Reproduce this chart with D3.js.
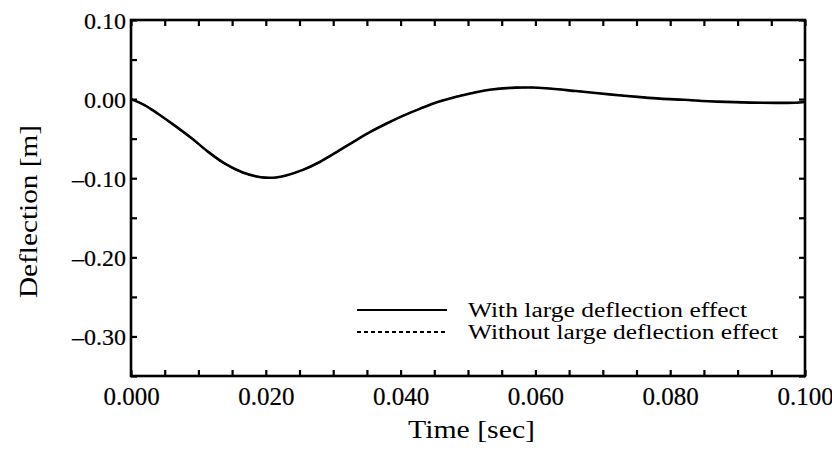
<!DOCTYPE html>
<html>
<head>
<meta charset="utf-8">
<script src="https://cdn.jsdelivr.net/npm/d3@7"></script>
<style>
  html, body { margin: 0; padding: 0; background: #fff; }
  svg { display: block; }
  text { font-family: "Liberation Serif", "DejaVu Serif", serif; fill: #000; }
</style>
</head>
<body>
<svg id="chart" width="832" height="451"></svg>
<script>
// ---- data ----
const time = [0, 0.002, 0.004, 0.0065, 0.009, 0.0115, 0.014, 0.0165, 0.0185, 0.020, 0.0215, 0.023,
  0.0255, 0.028, 0.0305, 0.033, 0.0355, 0.038, 0.0405, 0.043, 0.0455, 0.048, 0.0505, 0.0535,
  0.057, 0.0595, 0.0615, 0.066, 0.071, 0.076, 0.0785, 0.082, 0.087, 0.092, 0.096, 0.0985, 0.100];
const withLarge = [0, -0.0075, -0.0185, -0.0335, -0.0495, -0.067, -0.082, -0.0925, -0.0975, -0.0993, -0.099, -0.0965,
  -0.0895, -0.0795, -0.067, -0.054, -0.0415, -0.0305, -0.0205, -0.0117, -0.0037, 0.0025, 0.0075, 0.0122,
  0.0145, 0.0146, 0.0137, 0.0102, 0.006, 0.0022, 0.0006, -0.0009, -0.0032, -0.0045, -0.0047, -0.0046, -0.0036];
const withoutLarge = [0, -0.0075, -0.0187, -0.0338, -0.0498, -0.0673, -0.0823, -0.0927, -0.0977, -0.0994, -0.0991, -0.0966,
  -0.0896, -0.0796, -0.0671, -0.054, -0.0414, -0.0304, -0.0204, -0.0116, -0.0036, 0.0026, 0.0076, 0.0123,
  0.0146, 0.0147, 0.0138, 0.0103, 0.0061, 0.0023, 0.0006, -0.0009, -0.0032, -0.0045, -0.0047, -0.0046, -0.0037];
const xLabelTicks = [0, 0.02, 0.04, 0.06, 0.08, 0.10];
const yLabelTicks = [0.10, 0.00, -0.10, -0.20, -0.30];
const seriesNames = ["With large deflection effect", "Without large deflection effect"];
const xTitle = "Time [sec]";
const yTitle = "Deflection [m]";

// ---- layout ----
const svg = d3.select("#chart");
const L = 131, R = 805, T = 20, B = 376;
const x = d3.scaleLinear().domain([0, 0.10]).range([L, R]);
const y = d3.scaleLinear().domain([-0.35, 0.10]).range([B, T]);

const fmtX = d => d3.format(".3f")(d);
const fmtY = d => (d < 0 ? "\u2013" : "") + d3.format(".2f")(Math.abs(d));
const isLabX = d => xLabelTicks.some(v => Math.abs(v - d) < 1e-9);
const isLabY = d => yLabelTicks.some(v => Math.abs(v - d) < 1e-9);

const xMinor = d3.range(0, 0.10001, 0.005);
const yMinor = d3.range(-0.35, 0.10001, 0.05).map(v => Math.round(v * 100) / 100);

// bottom axis
const gB = svg.append("g").attr("transform", `translate(0,${B})`)
  .call(d3.axisBottom(x).tickValues(xMinor).tickSize(-6).tickPadding(11)
    .tickFormat(d => isLabX(d) ? fmtX(d) : ""));
// top axis
const gT = svg.append("g").attr("transform", `translate(0,${T})`)
  .call(d3.axisTop(x).tickValues(xMinor).tickSize(-6).tickFormat(""));
// left axis
const gL = svg.append("g").attr("transform", `translate(${L},0)`)
  .call(d3.axisLeft(y).tickValues(yMinor).tickSize(-6).tickPadding(5)
    .tickFormat(d => isLabY(d) ? fmtY(d) : ""));
// right axis
const gR = svg.append("g").attr("transform", `translate(${R},0)`)
  .call(d3.axisRight(y).tickValues(yMinor).tickSize(-6).tickFormat(""));

[gB, gT, gL, gR].forEach(g => {
  g.select(".domain").remove();
  g.selectAll(".tick line").attr("stroke", "#000").attr("stroke-width", 2.2);
  g.selectAll(".tick text").style("font-family", "'Liberation Serif', serif").attr("fill", "#000")
    .attr("stroke", "#000").attr("stroke-width", 0.2);
});
gB.selectAll(".tick text").style("font-size", "25px");
gL.selectAll(".tick text").style("font-size", "24px").attr("dy", "0.35em");

// frame
svg.append("rect").attr("x", L).attr("y", T).attr("width", R - L).attr("height", B - T)
  .attr("fill", "none").attr("stroke", "#000").attr("stroke-width", 2.6);

// lines
const data1 = time.map((t, i) => [t, withLarge[i]]);
const data2 = time.map((t, i) => [t, withoutLarge[i]]);
const line = d3.line().x(d => x(d[0])).y(d => y(d[1])).curve(d3.curveCatmullRom);
svg.append("path").attr("d", line(data1)).attr("fill", "none").attr("stroke", "#000").attr("stroke-width", 2.6);
svg.append("path").attr("d", line(data2)).attr("fill", "none").attr("stroke", "#000").attr("stroke-width", 1.5)
  .attr("stroke-dasharray", "4,3");

// legend
const legY = [310, 332];
const dashes = [null, "4,3"];
legY.forEach((ly, i) => {
  svg.append("line").attr("x1", 357).attr("x2", 447).attr("y1", ly).attr("y2", ly)
    .attr("stroke", "#000").attr("stroke-width", 2)
    .attr("stroke-dasharray", dashes[i]);
  svg.append("text").attr("x", 468).attr("y", ly + 7).style("font-size", "20px")
    .attr("textLength", i === 0 ? 279 : 310).attr("lengthAdjust", "spacingAndGlyphs")
    .text(seriesNames[i]);
});

// titles
svg.append("text").attr("x", 408).attr("y", 438).style("font-size", "25px")
  .attr("textLength", 127).attr("lengthAdjust", "spacingAndGlyphs").text(xTitle);
svg.append("text").attr("transform", "translate(37,298) rotate(-90)").style("font-size", "25px")
  .attr("textLength", 173).attr("lengthAdjust", "spacingAndGlyphs").text(yTitle);
</script>
</body>
</html>
